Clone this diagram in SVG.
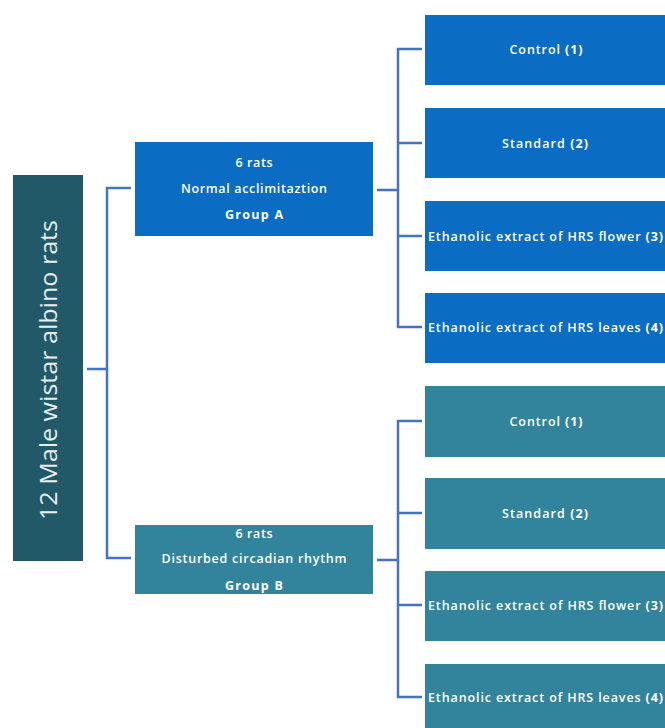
<svg xmlns="http://www.w3.org/2000/svg" width="665" height="728" viewBox="0 0 665 728">
<style>
.t{font-family:"Open Sans","Liberation Sans",Arial,sans-serif;fill:#ffffff;font-size:12.5px;font-weight:600;text-anchor:middle}
.b{font-weight:bold}
.a{fill:#0a6cc2}
.g{fill:#31849b}
.c{fill:none;stroke:#4472c4;stroke-width:2.5}
</style>
<rect width="665" height="728" fill="#ffffff"/>
<g id="root">
<rect x="13" y="175" width="70" height="386" fill="#215968"/>
<text transform="translate(57,370) rotate(-90)" style="font-family:'Open Sans','Liberation Sans',Arial,sans-serif;font-size:24px;fill:#e6eef0;text-anchor:middle" textLength="300" lengthAdjust="spacingAndGlyphs">12 Male wistar albino rats</text>
</g>
<g id="groupA">
<rect class="a" x="135" y="142" width="238" height="94"/>
<text class="t" x="254" y="167" textLength="37">6 rats</text>
<text class="t" x="254" y="193" textLength="146">Normal acclimitaztion</text>
<text class="t b" x="254" y="219" textLength="58">Group A</text>
</g>
<g id="groupB">
<rect class="g" x="135" y="525" width="238" height="69"/>
<text class="t" x="254" y="538" textLength="37">6 rats</text>
<text class="t" x="254" y="563" textLength="185">Disturbed circadian rhythm</text>
<text class="t b" x="254" y="590" textLength="58">Group B</text>
</g>
<g id="A1"><rect class="a" x="425" y="15" width="240" height="70"/><text class="t" x="546" y="54" textLength="73">Control <tspan class="b">(1)</tspan></text></g>
<g id="A2"><rect class="a" x="425" y="108" width="240" height="70"/><text class="t" x="545" y="148" textLength="86">Standard <tspan class="b">(2)</tspan></text></g>
<g id="A3"><rect class="a" x="425" y="201" width="240" height="70"/><text class="t" x="545.5" y="241" textLength="235">Ethanolic extract of HRS flower <tspan class="b">(3)</tspan></text></g>
<g id="A4"><rect class="a" x="425" y="293" width="240" height="70"/><text class="t" x="545.5" y="332" textLength="235">Ethanolic extract of HRS leaves <tspan class="b">(4)</tspan></text></g>
<g id="B1"><rect class="g" x="425" y="386" width="240" height="71"/><text class="t" x="546" y="426" textLength="73">Control <tspan class="b">(1)</tspan></text></g>
<g id="B2"><rect class="g" x="425" y="478" width="240" height="71"/><text class="t" x="545" y="518" textLength="86">Standard <tspan class="b">(2)</tspan></text></g>
<g id="B3"><rect class="g" x="425" y="571" width="240" height="70"/><text class="t" x="545.5" y="610" textLength="235">Ethanolic extract of HRS flower <tspan class="b">(3)</tspan></text></g>
<g id="B4"><rect class="g" x="425" y="664" width="240" height="70"/><text class="t" x="545.5" y="702" textLength="235">Ethanolic extract of HRS leaves <tspan class="b">(4)</tspan></text></g>
<g id="connectors">
<path class="c" d="M87 369H107M131 188H107V558H131"/>
<path class="c" d="M377 190H398M422 49H398V327H422M398 143H422M398 236H422"/>
<path class="c" d="M377 560H398M422 421H398V697H422M398 513H422M398 605H422"/>
</g>
</svg>
